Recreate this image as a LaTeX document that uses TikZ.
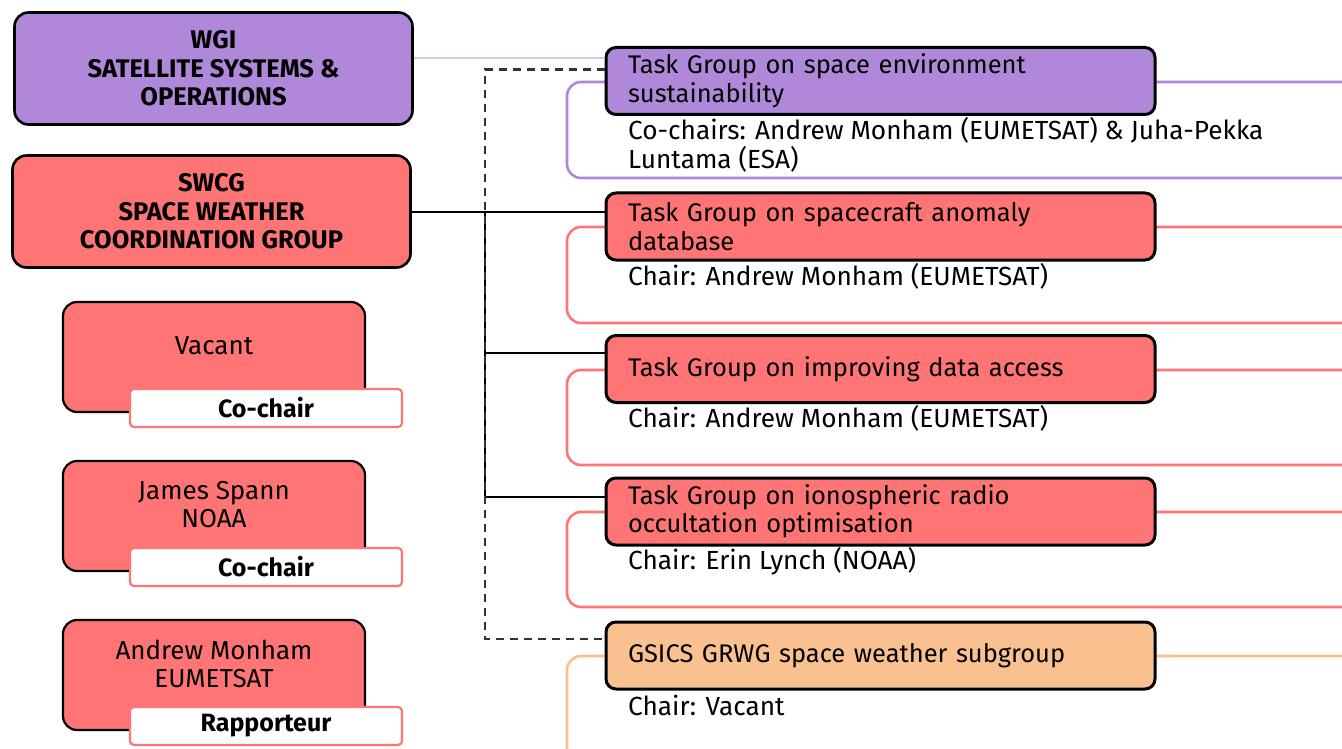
\documentclass[tikz,border=0pt]{standalone}
\usepackage{fontspec}
\setmainfont{Fira Sans}
\definecolor{wgipurple}{HTML}{B088DA}
\definecolor{wgiline}{HTML}{D9C6F0}
\definecolor{swcgred}{HTML}{FF7575}
\definecolor{gsicsorange}{HTML}{F9C090}
\begin{document}
\begin{tikzpicture}[x=1pt,y=-1pt,
    topbox/.style={draw,line width=2.6pt,rounded corners=14pt,minimum width=398pt,minimum height=112pt,inner sep=0pt,align=center,font=\bfseries\fontsize{25.5}{28.5}\selectfont},
    personbox/.style={draw,line width=2.2pt,rounded corners=14pt,fill=swcgred,minimum width=302pt,minimum height=110pt,inner sep=0pt},
    persontext/.style={align=center,inner sep=0pt,font=\fontsize{26}{28}\selectfont},
    badge/.style={draw=swcgred,fill=white,line width=2.2pt,rounded corners=4pt,minimum width=272pt,minimum height=38pt,inner sep=0pt,font=\bfseries\fontsize{25}{28}\selectfont},
    tgbox/.style={draw,line width=3pt,rounded corners=10pt,minimum width=549pt,minimum height=67pt,text width=505pt,inner sep=0pt,align=left,font=\fontsize{25.5}{28.5}\selectfont},
    outline/.style={draw=#1,line width=2.6pt,rounded corners=14pt},
    chair/.style={anchor=west,align=left,inner sep=0pt,font=\fontsize{26.2}{28.5}\selectfont},
    link/.style={line width=2pt},
    dashlink/.style={line width=2.2pt,dash pattern=on 8pt off 6pt,black!80}]
  \useasboundingbox (0,0) rectangle (1342,749);
  \clip (0,0) rectangle (1342,749);
  % left column
  \node (wgi) [topbox,fill=wgipurple] at (213.5,68.5) {WGI\\SATELLITE SYSTEMS \&\\OPERATIONS};
  \node (swcg) [topbox,fill=swcgred] at (211.5,211.5) {SWCG\\SPACE WEATHER\\COORDINATION GROUP};
  \node (vacantbox) [personbox] at (214,357) {};
  \node (vacant) [persontext] at (214,346) {Vacant};
  \node (vacantrole) [badge] at (266,408) {Co-chair};
  \node (spannbox) [personbox] at (214,516) {};
  \node (spann) [persontext] at (214,505) {James Spann\\NOAA};
  \node (spannrole) [badge] at (266,567) {Co-chair};
  \node (monhambox) [personbox] at (214,675) {};
  \node (monham) [persontext] at (214,664) {Andrew Monham\\EUMETSAT};
  \node (monhamrole) [badge] at (266,726) {Rapporteur};
  % task groups
  \draw[outline=wgipurple] (567,82) rectangle (1365,178);
  \draw[outline=swcgred] (567,227) rectangle (1365,323);
  \draw[outline=swcgred] (567,370) rectangle (1365,465);
  \draw[outline=swcgred] (567,512) rectangle (1365,607);
  \draw[outline=gsicsorange] (567,656) rectangle (1365,780);
  \node (tg1) [tgbox,fill=wgipurple] at (880.5,81) {Task Group on space environment\\sustainability};
  \node (tg2) [tgbox,fill=swcgred] at (880.5,226.5) {Task Group on spacecraft anomaly\\database};
  \node (tg3) [tgbox,fill=swcgred] at (880.5,369) {Task Group on improving data access};
  \node (tg4) [tgbox,fill=swcgred] at (880.5,511.5) {Task Group on ionospheric radio\\occultation optimisation};
  \node (tg5) [tgbox,fill=gsicsorange] at (880.5,655.5) {GSICS GRWG space weather subgroup};
  \node (tg1chair) [chair] at (628,145) {Co-chairs: Andrew Monham (EUMETSAT) \& Juha-Pekka\\Luntama (ESA)};
  \node (tg2chair) [chair] at (628,276) {Chair: Andrew Monham (EUMETSAT)};
  \node (tg3chair) [chair] at (628,418) {Chair: Andrew Monham (EUMETSAT)};
  \node (tg4chair) [chair] at (628,561) {Chair: Erin Lynch (NOAA)};
  \node (tg5chair) [chair] at (628,705) {Chair: Vacant};
  % connectors
  \coordinate (trunk) at (485,0);
  \draw[wgiline,line width=2pt] ([yshift=10.5pt]wgi.east) -- ([yshift=10.5pt]wgi.east -| tg1.west);
  \draw[link] (swcg.east) -- (swcg.east -| tg2.west);
  \draw[link] (swcg.east -| trunk) |- ([yshift=14.5pt]tg4.west);
  \draw[link] ([yshift=16pt]tg3.west) -- ([yshift=16pt]tg3.west -| trunk);
  \draw[dashlink] ([yshift=11.5pt]tg1.west) -| ([yshift=16.5pt]tg5.west -| trunk) -- ([yshift=16.5pt]tg5.west);
\end{tikzpicture}
\end{document}
